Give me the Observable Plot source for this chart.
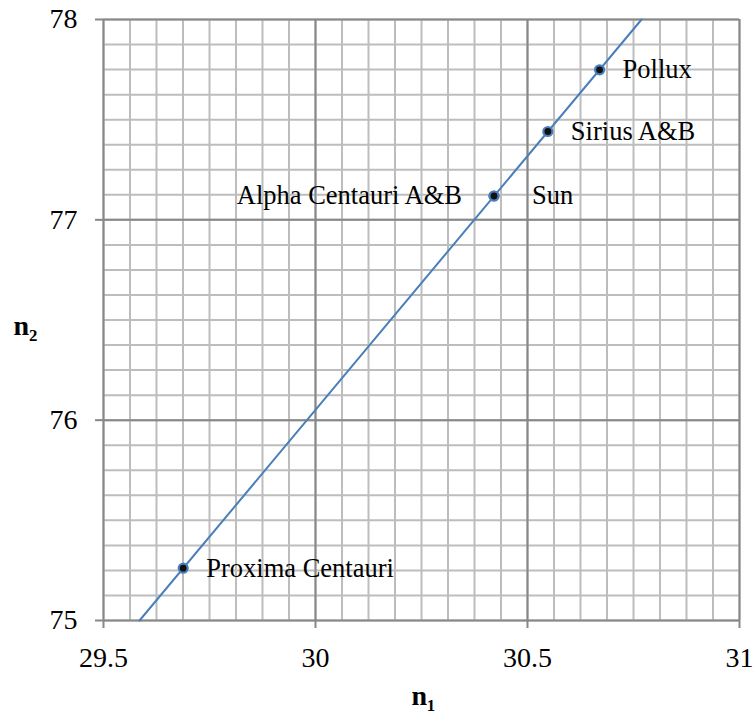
<!DOCTYPE html>
<html>
<head>
<meta charset="utf-8">
<script src="https://cdn.jsdelivr.net/npm/d3@7"></script>
<script src="https://cdn.jsdelivr.net/npm/@observablehq/plot@0.6"></script>
<style>
  html, body { margin: 0; padding: 0; background: #fff; }
</style>
</head>
<body>
<div id="chart"></div>
<script>
// Data
const stars = ["Proxima Centauri", "Alpha Centauri A&B", "Sun", "Sirius A&B", "Pollux"];
const n1 = [29.688, 30.421, 30.421, 30.548, 30.670];
const n2 = [75.261, 77.119, 77.119, 77.441, 77.749];
const labelSide = ["right", "left", "far", "right", "right"];

// Trend line series
const trendN1 = [29.585, 30.769];
const trendN2 = [75, 78];

// Axis ticks
const xTicks = [29.5, 30, 30.5, 31];
const yTicks = [75, 76, 77, 78];
const xMinorStep = 0.0625;
const yMinorStep = 0.125;

const points = stars.map((s, i) => ({star: s, n1: n1[i], n2: n2[i], side: labelSide[i]}));
const trend = trendN1.map((x, i) => ({n1: x, n2: trendN2[i]}));
const xMinor = d3.range(0, Math.round((31 - 29.5) / xMinorStep) + 1).map(i => 29.5 + i * xMinorStep);
const yMinor = d3.range(0, Math.round((78 - 75) / yMinorStep) + 1).map(i => 75 + i * yMinorStep);

const font = "'Liberation Serif', 'Times New Roman', serif";

const chart = Plot.plot({
  width: 756,
  height: 717,
  marginLeft: 103,
  marginRight: 17,
  marginTop: 19,
  marginBottom: 97,
  style: {fontFamily: font, fontSize: "27px", color: "#000", background: "#fff"},
  x: {domain: [29.5, 31]},
  y: {domain: [75, 78]},
  marks: [
    Plot.gridX(xMinor, {stroke: "#bdbdbd", strokeOpacity: 1, strokeWidth: 2}),
    Plot.gridY(yMinor, {stroke: "#bdbdbd", strokeOpacity: 1, strokeWidth: 2}),
    Plot.gridX(xTicks, {stroke: "#878787", strokeOpacity: 1, strokeWidth: 2}),
    Plot.gridY(yTicks, {stroke: "#878787", strokeOpacity: 1, strokeWidth: 2}),
    Plot.axisX({ticks: xTicks, tickSize: 8, tickPadding: 19, stroke: "#878787", strokeWidth: 2,
      fontSize: 28, fontFamily: font, tickFormat: d => String(d), label: null}),
    Plot.axisY({ticks: yTicks, tickSize: 8, tickPadding: 18, stroke: "#878787", strokeWidth: 2,
      fontSize: 28, fontFamily: font, tickFormat: d => String(d), label: null}),
    Plot.line(trend, {x: "n1", y: "n2", stroke: "#4a7ebb", strokeWidth: 2}),
    Plot.dot(points, {x: "n1", y: "n2", r: 4.5, fill: "#111", stroke: "#4a7ebb", strokeWidth: 2.2}),
    Plot.text(points.filter(d => d.side === "right"), {x: "n1", y: "n2", text: "star",
      textAnchor: "start", dx: 23, fontSize: 26.5, fontFamily: font, fill: "#000"}),
    Plot.text(points.filter(d => d.side === "far"), {x: "n1", y: "n2", text: "star",
      textAnchor: "start", dx: 38, fontSize: 26.5, fontFamily: font, fill: "#000"}),
    Plot.text(points.filter(d => d.side === "left"), {x: "n1", y: "n2", text: "star",
      textAnchor: "end", dx: -32, fontSize: 26.5, fontFamily: font, fill: "#000"}),
    Plot.text(["n₁"], {frameAnchor: "bottom", dy: 84, dx: 2, fontSize: 28, fontWeight: "bold", fontFamily: font, fill: "#000"}),
    Plot.text(["n₂"], {frameAnchor: "left", dx: -90, dy: 6, fontSize: 28, fontWeight: "bold", fontFamily: font, fill: "#000"})
  ]
});
document.getElementById("chart").appendChild(chart);
</script>
</body>
</html>
